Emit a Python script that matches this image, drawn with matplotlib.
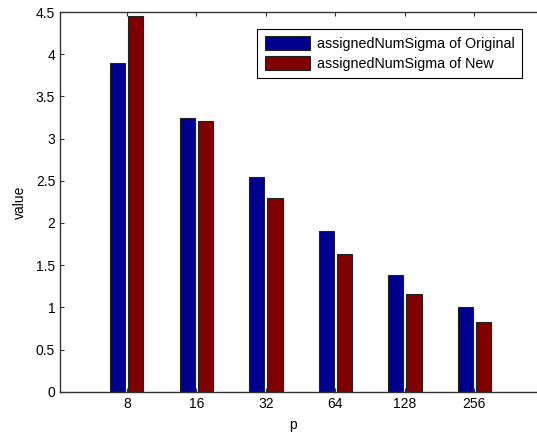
import matplotlib
matplotlib.use("Agg")
import matplotlib.pyplot as plt
import numpy as np

plt.rcParams["font.family"] = ["Liberation Sans", "DejaVu Sans"]

p_labels = ["8", "16", "32", "64", "128", "256"]
original_vals = [3.90, 3.24, 2.54, 1.91, 1.38, 1.00]
new_vals = [4.45, 3.21, 2.29, 1.635, 1.16, 0.83]

fig = plt.figure(figsize=(5.37, 4.32), dpi=100)
# axes run to the right edge of the canvas, right spine cut off as in the reference
ax = fig.add_axes([60 / 537, 40.3 / 432, 477 / 537, 379.7 / 432])

x = np.arange(1, len(p_labels) + 1)
width = 0.22
offset = 0.13
ax.bar(x - offset, original_vals, width, color="#00008F", edgecolor="#222222",
       linewidth=0.8, label="assignedNumSigma of Original", zorder=2)
ax.bar(x + offset, new_vals, width, color="#800000", edgecolor="#222222",
       linewidth=0.8, label="assignedNumSigma of New", zorder=2)

ax.set_xlim(0.04, 6.9)
ax.set_ylim(0, 4.5)
ax.set_xticks(x)
ax.set_xticklabels(p_labels)
ax.set_yticks(np.arange(0, 4.51, 0.5))
ax.set_yticklabels(["0", "0.5", "1", "1.5", "2", "2.5", "3", "3.5", "4", "4.5"])
ax.tick_params(direction="in", length=3, width=0.8, labelsize=10,
               top=True, right=False, colors="#333333", labelcolor="black")
ax.set_xlabel("p", fontsize=10)
ax.xaxis.set_label_coords(0.488, -0.068)
ax.set_ylabel("value", fontsize=10, labelpad=6)

for s in ax.spines.values():
    s.set_color("#333333")
    s.set_linewidth(1.0)
ax.spines["right"].set_visible(False)

leg = ax.legend(loc="upper right", bbox_to_anchor=(521.7 / 537, 1 - 29 / 432),
                bbox_transform=fig.transFigure, borderaxespad=0, fontsize=10.3,
                fancybox=False, framealpha=1, edgecolor="black",
                handlelength=3.2, handleheight=1.15, handletextpad=0.45,
                labelspacing=0.35, borderpad=0.5)
leg.get_frame().set_linewidth(0.8)

fig.savefig("out.png", dpi=100)
